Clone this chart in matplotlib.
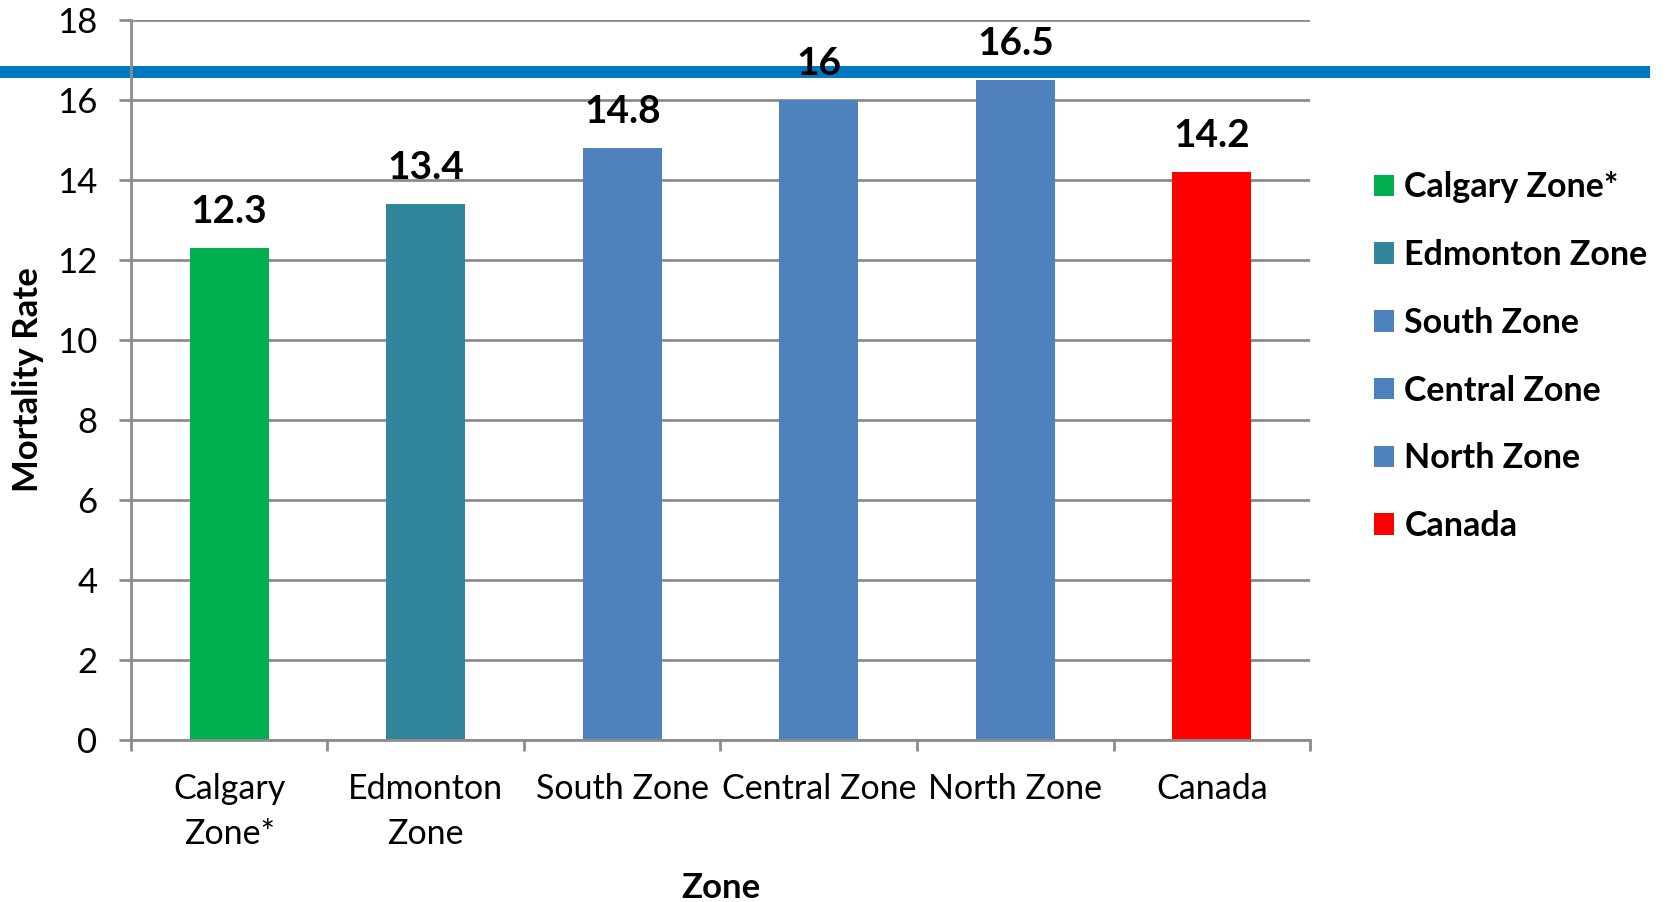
import matplotlib
matplotlib.use("Agg")
import matplotlib.pyplot as plt
import matplotlib.transforms as mtransforms
from matplotlib.patches import Patch

zones = ["Calgary Zone*", "Edmonton Zone", "South Zone", "Central Zone", "North Zone", "Canada"]
tick_labels = ["Calgary\nZone*", "Edmonton\nZone", "South Zone", "Central Zone", "North Zone", "Canada"]
rates = [12.3, 13.4, 14.8, 16.0, 16.5, 14.2]
value_labels = ["12.3", "13.4", "14.8", "16", "16.5", "14.2"]
colors = ["#00B050", "#31859C", "#4F81BD", "#4F81BD", "#4F81BD", "#FF0000"]
reference_rate = 16.7

plt.rcParams["font.family"] = ["Lato", "DejaVu Sans"]
grid_col = "#8C8C8C"

fig = plt.figure(figsize=(16.68, 9.02), dpi=100)
ax = fig.add_axes([0.0785, 0.1796, 0.7069, 0.7982])

x = list(range(len(zones)))
ax.bar(x, rates, width=0.4, color=colors, zorder=3)

for xi, r, lab in zip(x, rates, value_labels):
    ax.annotate(lab, (xi, r), xytext=(0, 14), textcoords="offset points",
                ha="center", va="bottom", fontsize=28, fontweight="bold", zorder=5)

ax.set_xlim(-0.5, 5.5)
ax.set_ylim(0, 18)
ax.set_yticks(range(0, 19, 2))
ax.tick_params(axis="y", labelsize=25, length=9, width=2, color=grid_col, pad=15)
ax.yaxis.grid(True, color=grid_col, linewidth=2, zorder=0)
ax.set_axisbelow(True)

# labels at category centres, tick marks at category boundaries
ax.set_xticks(x)
ax.set_xticklabels(tick_labels, fontsize=24.5, linespacing=1.5)
ax.tick_params(axis="x", which="major", length=0, pad=24)
ax.set_xticks([i - 0.5 for i in range(len(zones) + 1)], minor=True)
ax.tick_params(axis="x", which="minor", length=8, width=2, color=grid_col)

for side in ["top", "right"]:
    ax.spines[side].set_visible(False)
for side in ["left", "bottom"]:
    ax.spines[side].set_color(grid_col)
    ax.spines[side].set_linewidth(2)
    ax.spines[side].set_zorder(4)

ax.set_ylabel("Mortality Rate", fontsize=25, fontweight="bold", va="center")
ax.yaxis.set_label_coords(-0.087, 0.5)
ax.set_xlabel("Zone", fontsize=25, fontweight="bold", va="center")
ax.xaxis.set_label_coords(0.5, -0.206)

# horizontal reference line running across the whole figure
trans = mtransforms.blended_transform_factory(fig.transFigure, ax.transData)
ax.plot([0, 0.989], [reference_rate, reference_rate], transform=trans,
        color="#0078C1", linewidth=8.6, clip_on=False, zorder=2, solid_capstyle="butt")

handles = [Patch(facecolor=c, label=z) for z, c in zip(zones, colors)]
leg = fig.legend(handles=handles, loc="upper left", bbox_to_anchor=(0.8155, 0.825),
                 frameon=False, fontsize=24.5, handlelength=0.6, handleheight=0.6,
                 handletextpad=0.3, labelspacing=1.05, borderaxespad=0)
for t in leg.get_texts():
    t.set_fontweight("bold")

fig.savefig("out.png", dpi=100)
